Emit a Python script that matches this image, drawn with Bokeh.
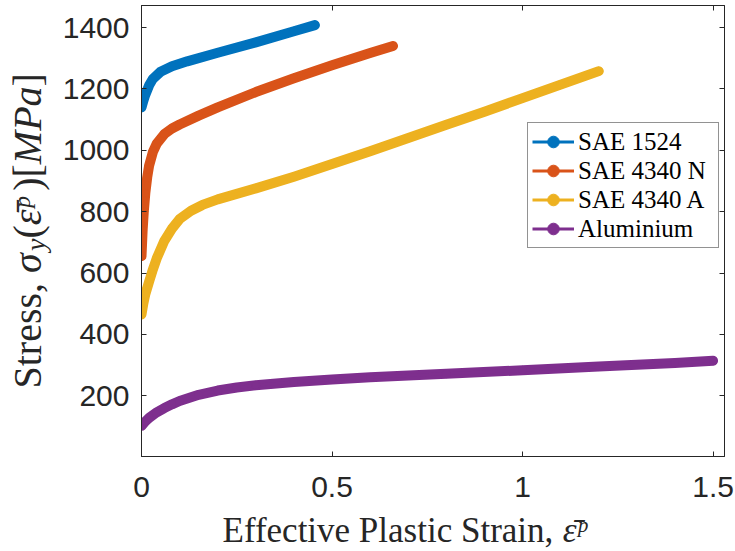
import numpy as np
from bokeh.plotting import figure
from bokeh.layouts import row, column
from bokeh.models import (Range1d, FixedTicker, LinearAxis, Legend, LegendItem,
                          Label, ColumnDataSource)
from bokeh.embed import file_html
from bokeh.resources import INLINE

# Flow curves: effective plastic strain vs. yield stress [MPa]
sae1524_eps = [0, 0.005, 0.01, 0.02, 0.03, 0.05, 0.08, 0.12, 0.2, 0.3, 0.4, 0.455]
sae1524_sig = [1140, 1162, 1181, 1212, 1233, 1256, 1274, 1290, 1318, 1352, 1388, 1408]

sae4340n_eps = [0, 0.003, 0.006, 0.01, 0.015, 0.02, 0.03, 0.04, 0.06, 0.08, 0.1,
                0.15, 0.2, 0.3, 0.4, 0.5, 0.6, 0.66]
sae4340n_sig = [655, 740, 800, 860, 912, 950, 995, 1022, 1053, 1071, 1084,
                1113, 1140, 1190, 1235, 1277, 1317, 1340]

sae4340a_eps = [0, 0.005, 0.01, 0.02, 0.03, 0.04, 0.06, 0.08, 0.1, 0.13, 0.16, 0.2,
                0.3, 0.4, 0.5, 0.6, 0.7, 0.8, 0.9, 1.0, 1.1, 1.2]
sae4340a_sig = [465, 502, 531, 572, 612, 648, 705, 745, 776, 803, 822, 840,
                876, 914, 955, 997, 1040, 1083, 1126, 1170, 1214, 1258]

alu_eps = [0, 0.01, 0.02, 0.04, 0.06, 0.08, 0.1, 0.15, 0.2, 0.25, 0.3, 0.4, 0.5,
           0.6, 0.8, 1.0, 1.2, 1.4, 1.5]
alu_sig = [102, 116, 128, 146, 160, 172, 183, 203, 217, 227, 234, 245, 253,
           260, 272, 283, 295, 307, 314]

names = ["SAE 1524", "SAE 4340 N", "SAE 4340 A", "Aluminium"]
colors = ["#0072BD", "#D95319", "#EDB120", "#7E2F8E"]
x_ticks = [0, 0.5, 1, 1.5]
y_ticks = [200, 400, 600, 800, 1000, 1200, 1400]

INK = "#262626"
YLAB_W = 58      # strip holding the vertical axis title
XLAB_H = 40      # strip holding the horizontal axis title
MAIN_W = 735 - YLAB_W
MAIN_H = 551 - XLAB_H
FRAME_TOP, FRAME_BOTTOM = 5, 456

p = figure(width=MAIN_W, height=MAIN_H, output_backend="svg", toolbar_location=None,
           x_range=Range1d(0, 1.53), y_range=Range1d(2, 1472),
           min_border_left=83, min_border_right=11, min_border_top=FRAME_TOP,
           min_border_bottom=MAIN_H - FRAME_BOTTOM, background_fill_color="white",
           border_fill_color="white")
p.grid.visible = False
p.outline_line_color = INK
p.outline_line_width = 1


def style_axis(ax, ticks, show_labels=True):
    ax.ticker = FixedTicker(ticks=ticks)
    ax.axis_line_color = INK
    ax.major_tick_line_color = INK
    ax.major_tick_in = 5
    ax.major_tick_out = 0
    ax.minor_tick_line_color = None
    if show_labels:
        ax.major_label_text_font = "Liberation Sans"
        ax.major_label_text_font_size = "30px"
        ax.major_label_text_color = INK
    else:
        ax.major_label_text_font_size = "1px"
        ax.major_label_text_color = None
        ax.major_label_standoff = 0


style_axis(p.xaxis[0], x_ticks)
p.xaxis[0].major_label_standoff = 20
style_axis(p.yaxis[0], y_ticks)
p.yaxis[0].major_label_standoff = 12

top_ax = LinearAxis()
style_axis(top_ax, x_ticks, show_labels=False)
p.add_layout(top_ax, "above")
right_ax = LinearAxis()
style_axis(right_ax, y_ticks, show_labels=False)
p.add_layout(right_ax, "right")

items = []
for name, eps, sig, col in zip(names,
                               [sae1524_eps, sae4340n_eps, sae4340a_eps, alu_eps],
                               [sae1524_sig, sae4340n_sig, sae4340a_sig, alu_sig],
                               colors):
    src = ColumnDataSource(dict(x=eps, y=sig))
    p.line("x", "y", source=src, line_width=10, line_color=col,
           line_cap="round", line_join="round")
    thin = p.line("x", "y", source=src, line_width=3, line_color=col)
    dots = p.scatter("x", "y", source=src, size=8, marker="circle",
                     fill_color=col, line_color=col)
    items.append(LegendItem(label=name, renderers=[thin, dots]))

legend = Legend(items=items, location=(386, 208), padding=4, spacing=0,
                margin=0, glyph_width=42, glyph_height=29, label_height=29,
                label_width=136, label_standoff=4,
                label_text_font="Liberation Serif", label_text_font_size="25px",
                label_text_color="black", border_line_color=INK,
                border_line_width=1, background_fill_color="white",
                background_fill_alpha=1)
p.add_layout(legend)


def strip(w, h, y_span):
    """Blank figure whose data units are pixels, used to hold an axis title."""
    f = figure(width=w, height=h, output_backend="svg", toolbar_location=None,
               x_range=Range1d(0, w), y_range=Range1d(0, y_span),
               x_axis_type=None, y_axis_type=None, min_border=0,
               min_border_left=0, min_border_right=0, min_border_top=0,
               min_border_bottom=0, outline_line_color=None,
               background_fill_color="white", border_fill_color="white")
    f.grid.visible = False
    return f


# advance widths (em) of the serif glyphs used in the axis titles
W_REG = {"S": .556, "t": .278, "r": .333, "e": .444, "s": .389, ",": .25, " ": .25,
         "(": .333, ")": .333, "[": .333, "]": .333, "E": .611, "f": .333,
         "c": .444, "i": .278, "v": .5, "P": .556, "l": .278, "a": .444, "n": .5}
W_ITA = {"\u03c3": .55, "y": .444, "\u03b5": .44, "\u0304": 0, "\u1d56": .42,
         "p": .5, "M": .833, "P": .611, "a": .5}


def run_text(fig, pieces, x0, y0, vertical):
    """Lay out a title made of (text, size, italic, raise) runs."""
    adv = 0.0
    for text, size, italic, rise in pieces:
        table = W_ITA if italic else W_REG
        if vertical:
            x, y, ang = x0 - rise, y0 + adv, np.pi / 2
        else:
            x, y, ang = x0 + adv, y0 + rise, 0
        fig.add_layout(Label(x=x, y=y, text=text, angle=ang,
                             text_font="Liberation Serif",
                             text_font_size=f"{size}px",
                             text_font_style="italic" if italic else "normal",
                             text_color=INK, text_align="left",
                             text_baseline="alphabetic"))
        adv += size * sum(table.get(ch, .5) for ch in text)


EPS_BAR_P = "\u03b5\u0304\u1d56"   # barred epsilon with superscript p

# the strip's frame lines up with the plot frame, so its y span is the frame height
ylab = strip(YLAB_W, MAIN_H, FRAME_BOTTOM - FRAME_TOP)
run_text(ylab, [("Stress, ", 40, False, 0),
                ("\u03c3", 40, True, 0),
                ("y", 28, True, -8),
                ("(", 40, False, 0),
                (EPS_BAR_P, 40, True, 0),
                (")[", 40, False, 0),
                ("MPa", 40, True, 0),
                ("]", 40, False, 0)], 27, 68, vertical=True)

xlab = strip(735, XLAB_H, XLAB_H)
run_text(xlab, [("Effective Plastic Strain, ", 35, False, 0),
                (EPS_BAR_P, 35, True, 0)], 222, 21, vertical=False)

layout = column(row(ylab, p, spacing=0), xlab, spacing=0)
open("out.html", "w").write(file_html(layout, INLINE))
